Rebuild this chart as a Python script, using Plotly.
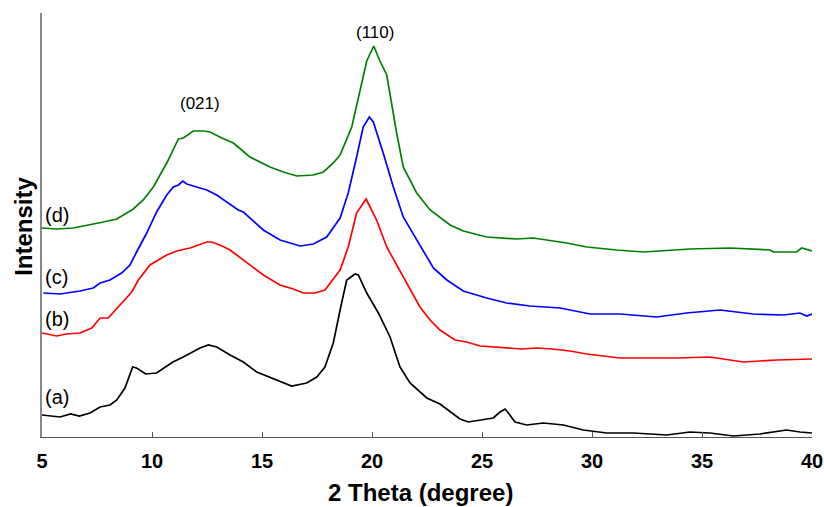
import plotly.graph_objects as go

# 2-theta positions (degree) and intensities (a.u.)
x_a = [5.0, 5.82, 6.3, 6.7, 7.18, 7.64, 8.09, 8.4, 8.77, 9.12, 9.3, 9.71, 10.21, 10.5, 10.95, 11.42, 11.73,
       12.18, 12.56, 12.94, 13.55, 14.15, 14.76, 15.21, 15.97, 16.35, 17.03, 17.49, 17.86, 18.24, 18.55,
       18.85, 19.23, 19.38, 19.76, 20.29, 20.82, 21.27, 21.73, 22.18, 22.49, 23.09, 23.55, 24.0, 24.38,
       24.91, 25.51, 25.82, 26.05, 26.2, 26.5, 27.03, 27.79, 28.7, 29.6, 30.67, 31.88, 33.4, 34.45, 35.36,
       36.42, 37.64, 38.85, 39.45, 40.0]
y_a = [22, 20, 23, 21, 24, 30, 32, 37, 49, 70, 69, 63, 64, 68, 75, 80, 84,
       89, 92, 90, 82, 75, 65, 61, 54, 51, 54, 60, 70, 94, 127,
       157, 163, 162, 144, 124, 100, 70, 54, 45, 39, 33, 25, 18, 15,
       17, 19, 25, 28, 24, 15, 12, 14, 12, 7, 4, 4, 2, 5, 4,
       1, 3, 7, 5, 4]

x_b = [5.0, 5.67, 6.12, 6.73, 7.26, 7.64, 8.01, 8.55, 9.08, 9.38, 9.91, 10.67, 11.12, 11.73, 12.1, 12.49,
       12.71, 13.09, 13.55, 14.15, 15.06, 15.82, 16.42, 16.88, 17.41, 17.86, 18.55, 18.92, 19.3, 19.73,
       20.21, 20.67, 21.42, 22.18, 22.64, 23.09, 23.77, 24.3, 24.91, 25.97, 26.8, 27.49, 28.2, 29.0,
       29.76, 31.27, 32.33, 33.85, 35.36, 36.88, 38.4, 40.0]
y_b = [104, 101, 103, 104, 109, 119, 119, 132, 145, 157, 172, 182, 186, 189, 192, 195,
       195, 192, 187, 177, 162, 152, 148, 144, 144, 147, 167, 190, 224, 238,
       217, 190, 160, 130, 117, 107, 97, 95, 91, 89, 88, 89, 88, 86,
       83, 79, 79, 79, 80, 75, 77, 78]

x_c = [5.06, 5.82, 6.73, 7.33, 7.64, 8.09, 8.62, 9.0, 9.3, 9.76, 10.21, 10.67, 10.97, 11.2, 11.4, 11.58,
       12.03, 12.49, 12.94, 13.4, 13.92, 14.15, 15.06, 15.82, 16.73, 17.33, 17.94, 18.55, 18.92, 19.3,
       19.6, 19.88, 20.06, 20.51, 20.97, 21.42, 22.03, 22.64, 22.79, 23.4, 24.15, 25.21, 26.12, 27.18,
       28.55, 29.91, 31.27, 32.94, 34.3, 35.82, 37.33, 38.7, 39.45, 39.76, 40.0]
y_c = [144, 143, 146, 149, 154, 157, 164, 172, 185, 204, 225, 242, 250, 252, 256, 253,
       250, 247, 242, 235, 227, 225, 207, 197, 191, 193, 200, 219, 244, 280,
       310, 320, 315, 284, 250, 220, 197, 174, 169, 157, 146, 139, 134, 131,
       129, 123, 123, 120, 124, 127, 123, 122, 124, 121, 123]

x_d = [5.0, 5.67, 6.42, 7.18, 7.79, 8.4, 8.7, 9.15, 9.6, 10.06, 10.67, 11.2, 11.42, 11.88, 12.33, 12.64,
       13.17, 13.7, 14.45, 15.36, 15.97, 16.58, 17.33, 17.79, 18.24, 18.55, 19.08, 19.38, 19.76, 20.08,
       20.34, 20.67, 21.12, 21.42, 22.03, 22.64, 23.55, 24.15, 25.21, 26.58, 27.33, 28.85, 29.76, 31.12,
       32.33, 34.45, 36.27, 38.09, 38.24, 39.3, 39.53, 40.0]
y_d = [209, 208, 209, 212, 215, 218, 222, 228, 237, 250, 274, 298, 299, 306, 306, 305,
       299, 294, 280, 270, 265, 261, 262, 265, 274, 282, 310, 340, 376, 391,
       377, 362, 304, 270, 244, 227, 212, 206, 200, 198, 199, 194, 190, 187,
       185, 188, 189, 187, 185, 185, 189, 186]

series_names = ["(a)", "(b)", "(c)", "(d)"]
series_colors = ["#000000", "#ff0000", "#0000ff", "#008000"]
label_y = [40, 118, 160, 222]
peak_labels = ["(021)", "(110)"]
peak_x = [12.18, 20.14]
peak_y = [334, 405]
x_ticks = [5, 10, 15, 20, 25, 30, 35, 40]

FONT = "Liberation Sans, Arial, sans-serif"

fig = go.Figure()
for xs, ys, name, col in zip([x_a, x_b, x_c, x_d], [y_a, y_b, y_c, y_d], series_names, series_colors):
    fig.add_trace(go.Scatter(x=xs, y=ys, mode="lines", name=name,
                             line=dict(color=col, width=1.7), showlegend=False))

for name, ly in zip(series_names, label_y):
    fig.add_annotation(x=5.68, y=ly, text=name, showarrow=False, xref="x", yref="y",
                       xanchor="center", yanchor="middle",
                       font=dict(family=FONT, size=20, color="#000"))
for t, px, py in zip(peak_labels, peak_x, peak_y):
    fig.add_annotation(x=px, y=py, text=t, showarrow=False, xref="x", yref="y",
                       xanchor="center", yanchor="middle",
                       font=dict(family=FONT, size=17, color="#000"))

fig.add_annotation(x=0.491, y=-0.132, xref="paper", yref="paper", text="2 Theta (degree)",
                   xanchor="center", yanchor="middle",
                   showarrow=False, font=dict(family=FONT, size=24, color="#000", weight="bold"))
fig.add_annotation(x=-0.0234, y=0.498, xref="paper", yref="paper", text="Intensity", textangle=-90,
                   xanchor="center", yanchor="middle",
                   showarrow=False, font=dict(family=FONT, size=24, color="#000", weight="bold"))

fig.update_layout(
    width=824, height=507,
    margin=dict(l=42, r=12, t=13, b=70, autoexpand=False),
    plot_bgcolor="white", paper_bgcolor="white",
    xaxis=dict(range=[5, 40], tickvals=x_ticks, ticks="inside", ticklen=5, tickcolor="#555",
               showline=True, linecolor="#555", linewidth=1.2, showgrid=False, zeroline=False,
               automargin=False,
               tickfont=dict(family=FONT, size=20, color="#000", weight="bold"),
               ticklabelstandoff=6),
    yaxis=dict(range=[0, 424], showticklabels=False, ticks="", showline=True, linecolor="#888",
               linewidth=2, showgrid=False, zeroline=False, automargin=False),
)

# remove the default page margin so the 824x507 figure fills the window exactly
fig.write_html("out.html", config={"displayModeBar": False},
               post_script="document.body.style.margin='0';document.body.style.overflow='hidden';")
